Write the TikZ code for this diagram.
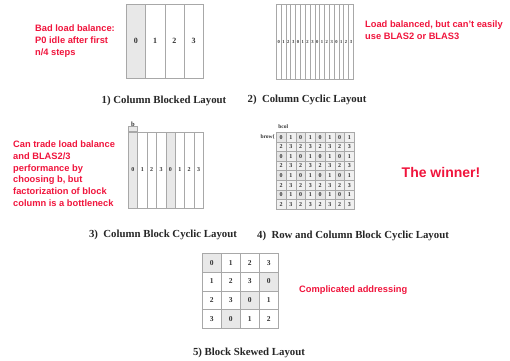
\documentclass[tikz,border=0pt]{standalone}
\usepackage{fontspec}
\usetikzlibrary{calc}
\setmainfont{Liberation Serif}
\setsansfont{Liberation Sans}
\definecolor{note}{RGB}{240,20,60}
\definecolor{gridc}{gray}{0.66}
\definecolor{shadec}{gray}{0.91}
\definecolor{lightc}{gray}{0.94}
\begin{document}
\begin{tikzpicture}[x=1pt,y=-1pt,
  note/.style={font=\sffamily\bfseries\fontsize{9.3}{11.8}\selectfont, text=note, align=left, anchor=north west, inner sep=0pt},
  captext/.style={font=\bfseries\fontsize{10.8}{13}\selectfont, text=black!85, inner sep=0pt},
  cell/.style={draw=gridc, line width=0.6pt, inner sep=0pt, anchor=north west},
  lab/.style={inner sep=0pt, text=black!80, font=\bfseries\fontsize{#1}{#1}\selectfont}
]
\useasboundingbox (0,0) rectangle (510,360);

% ---- Panel 1: column blocked
\foreach \i in {0,1,2,3}{
  \ifnum\i=0 \def\fc{shadec}\else\def\fc{white}\fi
  \node[cell, fill=\fc, minimum width=19.25pt, minimum height=74pt] (p1c\i) at (126+\i*19.25, 4) {};
  \node[lab=8] (p1l\i) at (p1c\i.center) {\i};
}
\node[captext] (cap1) at (164,101) {1) Column Blocked Layout};
\node[note] (n1) at (35,24.5) {Bad load balance:\\P0 idle after first\\n/4 steps};

% ---- Panel 2: column cyclic
\foreach \i in {0,...,15}{
  \pgfmathtruncatemacro{\l}{mod(\i,4)}
  \node[cell, minimum width=4.8125pt, minimum height=75pt] (p2c\i) at (276+\i*4.8125, 4) {};
  \node[lab=4.6] (p2l\i) at (p2c\i.center) {\l};
}
\node[captext] (cap2) at (307,100) {2)\ \ Column Cyclic Layout};
\node[note] (n2) at (365,20.5) {Load balanced, but can't easily\\use BLAS2 or BLAS3};

% ---- Panel 3: column block cyclic
\foreach \i in {0,...,7}{
  \pgfmathtruncatemacro{\l}{mod(\i,4)}
  \ifnum\l=0 \def\fc{shadec}\else\def\fc{white}\fi
  \node[cell, fill=\fc, minimum width=9.375pt, minimum height=76pt] (p3c\i) at (128+\i*9.375, 132) {};
  \node[lab=6] (p3l\i) at ($(p3c\i.center)+(0,-0.5)$) {\l};
}
\node[cell, fill=shadec, minimum width=9.375pt, minimum height=5pt, anchor=south west] (p3b) at (p3c0.north west) {};
\node[lab=6.5, anchor=south] (blab) at (p3b.north) {b};
\node[captext] (cap3) at (163,235) {3)\ \ Column Block Cyclic Layout};
\node[note] (n3) at (13,140.5) {Can trade load balance\\and BLAS2/3\\performance by\\choosing b, but\\factorization of block\\column is a bottleneck};

% ---- Panel 4: row and column block cyclic
\foreach \r in {0,...,7}{
  \foreach \c in {0,...,7}{
    \pgfmathtruncatemacro{\l}{2*mod(\r,2)+mod(\c,2)}
    \ifnum\l=0 \def\fc{gray!20}\else\def\fc{lightc}\fi
    \node[cell, fill=\fc, minimum width=9.75pt, minimum height=9.6pt] (p4c\r\c) at (276+\c*9.75, 132+\r*9.6) {};
    \node[lab=6] (p4l\r\c) at (p4c\r\c.center) {\l};
  }
}
\node[lab=5.5, anchor=south] (bcol) at ($(p4c00.north)+(2,-3)$) {bcol};
\node[lab=5.5, anchor=east] (brow) at ($(p4c00.west)+(-1,0)$) {brow\{};
\node[captext] (cap4) at (353,236) {4)\ \ Row and Column Block Cyclic Layout};
\node[font=\sffamily\bfseries\fontsize{14}{16}\selectfont, text=note, inner sep=0pt] (n4) at (441,172) {The winner!};

% ---- Panel 5: block skewed
\foreach \r in {0,...,3}{
  \foreach \c in {0,...,3}{
    \pgfmathtruncatemacro{\l}{mod(\r+\c,4)}
    \ifnum\l=0 \def\fc{shadec}\else\def\fc{white}\fi
    \node[cell, fill=\fc, minimum width=19pt, minimum height=18.75pt] (p5c\r\c) at (202+\c*19, 253+\r*18.75) {};
    \node[lab=7.5] (p5l\r\c) at (p5c\r\c.center) {\l};
  }
}
\node[captext] (cap5) at (249,353) {5) Block Skewed Layout};
\node[note, anchor=west] (n5) at (299,290) {Complicated addressing};
\end{tikzpicture}
\end{document}
